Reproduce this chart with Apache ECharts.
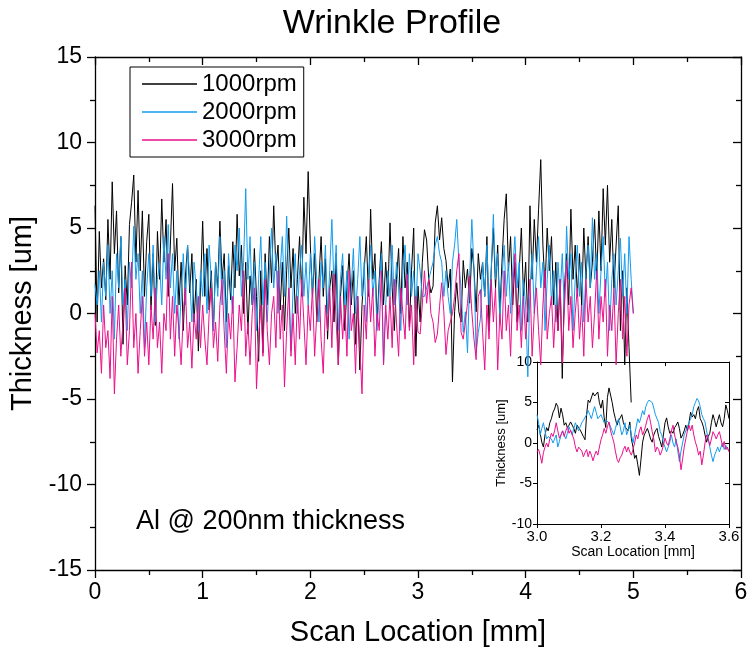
<!DOCTYPE html>
<html>
<head>
<meta charset="utf-8">
<script src="https://cdn.jsdelivr.net/npm/echarts@6/dist/echarts.min.js"></script>
<style>html,body{margin:0;padding:0;background:#fff}#c{width:751px;height:655px}</style>
</head>
<body>
<div id="c"></div>
<script>
// ---- data ----
const seriesNames = ['1000rpm', '2000rpm', '3000rpm'];
const mainStart = 0, mainStep = 0.02;      // scan location sampling of main traces [mm]
const insetStart = 3.0, insetStep = 0.005; // scan location sampling of inset traces [mm]

const main1000 = [
 6.3,-0.5,4.8,1.5,3.2,0.8,5.5,2.0,7.7,3.5,6.0,1.2,4.5,-1.8,2.8,0.5,5.2,6.5,8.1,3.0,7.2,2.5,6.0,1.0,4.2,
 5.8,0.2,3.5,-0.7,4.8,2.0,6.7,3.0,5.5,1.0,4.0,7.6,2.5,4.4,0.5,3.0,-1.0,2.2,4.0,1.2,3.5,-0.5,2.0,-2.2,1.5,
 5.4,1.0,3.8,0.2,2.5,-1.0,3.0,1.5,5.4,2.0,3.5,-0.5,2.8,0.8,4.2,1.5,5.8,2.2,4.0,0.0,3.0,-1.2,2.2,0.5,3.8,
 1.0,-2.8,2.5,-2.3,3.5,0.5,4.5,1.8,6.3,2.5,4.0,0.2,3.0,-1.0,2.5,5.0,1.5,3.8,0.0,2.0,4.5,1.0,6.8,3.5,8.3,
 4.0,1.0,3.5,-0.5,2.0,4.5,1.0,3.2,-1.5,1.5,2.5,-0.5,3.5,-3.0,1.0,2.8,-1.0,1.5,3.5,0.5,2.5,-1.8,1.0,-3.3,0.5,
 2.5,4.5,1.0,6.1,2.0,3.5,-0.5,2.0,4.2,0.5,3.0,1.0,5.3,1.5,-1.0,2.0,3.8,0.0,4.5,1.5,3.0,-0.8,2.5,5.0,-2.5,
 1.6,-0.5,3.0,4.9,4.3,2.0,1.2,1.6,5.3,6.3,4.3,5.6,3.8,3.1,1.5,2.6,-4.0,0.1,1.8,0.1,-0.5,3.1,1.5,2.6,0.6,
 3.8,2.6,0.1,3.5,2.0,3.0,1.0,4.5,-1.0,2.5,5.0,1.5,4.0,0.0,3.0,5.5,7.0,2.5,4.5,0.5,3.0,-0.5,2.5,5.0,1.0,
 3.0,-0.5,6.3,2.0,5.5,3.0,6.1,9.0,4.0,1.5,5.0,2.5,4.5,0.5,3.0,-1.0,2.0,-3.8,1.5,3.5,0.5,6.1,2.0,4.0,1.0,
 3.5,0.5,5.0,2.0,4.5,1.5,3.0,5.5,2.0,6.0,2.5,7.3,4.0,7.5,3.0,5.5,1.5,4.0,6.3,-1.0,2.5,-3.0,1.5,-2.0,-5.2
];
const main2000 = [
 1.7,0.5,2.5,-0.5,3.0,1.0,4.0,0.0,2.5,-1.5,3.5,1.5,4.5,0.5,2.0,-1.0,3.0,1.5,5.1,2.0,3.5,0.0,2.5,-2.0,1.5,
 3.5,1.0,4.0,-0.5,2.0,3.0,0.5,4.5,2.0,5.2,1.5,3.5,0.0,2.5,-1.5,1.0,3.5,0.5,4.0,2.0,-0.5,3.0,1.5,-1.0,2.5,
 1.0,3.5,0.0,4.0,2.0,-1.0,3.0,1.0,4.5,0.5,2.5,-2.0,3.5,1.5,0.0,4.0,2.5,5.0,1.0,3.0,7.3,2.0,4.5,0.5,3.0,
 -1.0,2.0,4.5,0.5,3.0,-0.5,2.5,5.0,1.5,3.5,0.0,2.5,4.5,1.0,5.7,2.0,-2.2,1.5,3.5,0.0,2.5,4.0,1.0,3.0,0.5,
 3.5,1.0,4.5,2.0,-0.5,3.0,1.5,4.0,0.0,2.5,5.5,1.5,4.0,-1.0,2.0,3.5,0.5,2.5,-1.5,1.5,3.8,0.0,2.0,4.5,1.0,
 3.0,-0.5,2.0,4.0,1.0,2.5,-1.0,1.5,3.5,-3.0,0.5,2.5,1.0,4.0,0.5,3.0,1.5,-1.0,2.5,4.0,0.5,3.5,1.0,2.5,0.0,
 3.5,2.5,1.0,1.0,1.5,2.0,2.5,3.0,4.0,4.5,3.5,3.0,1.0,2.5,1.0,0.0,3.0,4.0,5.5,3.0,1.4,-1.1,0.1,-2.3,2.2,
 5.5,2.6,-2.3,-1.1,-0.3,3.0,1.0,4.0,0.5,2.5,5.8,2.0,3.5,-0.5,2.0,4.0,1.0,3.0,0.0,2.5,4.5,1.5,3.0,-1.0,2.0,
 0.5,-3.7,1.5,3.5,0.0,2.5,4.5,1.5,3.0,-1.0,2.0,4.0,0.5,2.5,-0.5,3.0,1.0,3.5,0.0,5.1,2.0,3.5,-1.0,2.0,4.0,
 1.0,3.0,-0.5,2.5,4.0,1.5,5.6,2.0,3.5,0.0,2.5,4.5,1.0,3.0,-1.0,2.0,3.5,0.5,2.5,4.4,1.0,3.5,0.0,4.5,2.0,0.0
];
const main3000 = [
 0.0,-2.3,-1.0,-3.5,0.5,-2.0,-1.0,-3.8,1.0,-4.7,-1.5,0.5,-2.5,-0.5,1.5,-3.0,-1.0,3.0,-2.0,0.0,-3.5,-1.0,1.0,-2.5,-0.5,
 -3.0,0.5,-1.5,1.5,-2.0,-0.5,-3.5,0.0,-1.0,3.5,-1.5,1.0,-2.5,0.5,-1.0,-3.0,0.0,1.5,-2.0,-0.5,-3.2,0.0,-1.5,1.0,-2.0,
 0.5,-1.5,-3.0,0.0,1.5,-2.0,-0.5,-2.8,0.5,2.0,-1.0,-3.5,0.0,-1.5,1.0,-4.0,-2.0,0.5,-1.0,2.5,-2.5,-0.5,-3.0,0.0,1.5,
 -4.4,-1.5,0.5,-2.5,2.0,-1.0,-3.0,0.0,1.0,-2.0,2.5,-1.5,0.5,-4.3,-1.0,1.5,-2.5,0.0,-3.0,1.0,-1.5,2.0,-0.5,-3.0,0.5,
 -1.0,1.5,-2.5,0.0,2.0,-1.5,-3.5,0.5,-1.0,1.5,-2.0,2.3,-0.5,-3.0,1.0,-1.5,0.5,-2.5,2.5,-1.0,0.0,-3.5,1.0,-2.0,-4.7,
 0.5,-1.5,2.0,-0.5,1.5,-2.5,0.0,-1.0,2.5,-3.0,0.5,-1.5,1.0,-2.0,2.0,-0.5,-2.5,1.5,0.0,-1.5,2.3,-1.0,0.5,-3.0,1.0,
 -1.1,-1.2,0.5,2.5,0.6,2.0,0.0,-0.5,-1.7,-1.2,0.4,1.8,0.1,-2.4,-1.0,-0.5,0.0,1.0,2.5,3.5,-1.1,-1.5,-0.5,0.6,2.2,
 0.1,-1.5,-2.7,1.0,1.4,-1.1,-3.3,0.5,-1.5,2.0,-0.5,1.5,-3.3,0.0,-1.5,2.5,-1.0,0.5,-2.5,1.5,3.5,-1.0,0.5,-2.0,1.0,
 -1.5,0.5,2.0,-2.5,0.0,1.5,-1.0,-3.0,0.5,2.5,-1.5,0.0,1.0,-2.0,0.5,-1.0,2.0,-2.9,0.5,3.1,-1.0,1.0,-2.0,0.0,1.5,
 -1.5,0.5,-2.5,2.0,-0.5,1.0,-2.0,0.0,2.5,-1.5,1.0,-0.5,2.0,-2.5,0.5,-1.0,1.5,-3.0,0.0,2.0,-1.5,1.0,-2.5,0.5,1.5,0.0
];

const inset1000 = [
 1.6,2.2,1.2,0.1,-0.5,1.0,1.9,1.5,2.5,3.0,3.8,4.2,4.9,4.5,3.1,4.3,3.5,2.2,2.5,1.9,
 2.2,2.6,2.6,1.8,1.2,2.2,1.9,1.6,1.6,0.8,0.4,3.5,5.3,5.0,5.1,6.2,5.8,5.6,6.3,5.0,
 4.3,5.3,3.1,1.9,5.6,6.8,6.6,5.0,3.8,3.0,2.2,2.8,3.1,3.5,2.5,2.0,2.0,1.5,2.6,0.5,
 -0.5,-1.9,-1.5,-2.7,-4.0,-2.0,0.1,1.0,0.8,1.8,1.2,0.5,0.1,1.0,1.5,1.8,0.8,0.2,-0.5,1.0,
 2.5,3.1,2.0,1.2,1.5,1.2,1.9,2.2,2.6,1.8,0.6,1.0,1.5,2.2,1.5,2.5,3.8,3.2,3.5,3.0,
 4.0,4.5,3.0,2.6,2.0,1.0,0.1,0.8,1.2,2.5,3.5,2.8,2.0,2.8,3.5,2.5,2.0,3.0,4.7,4.0,
 3.0
];
const inset2000 = [
 3.5,2.5,1.0,1.8,2.5,1.5,0.5,0.8,1.0,0.5,0.0,0.5,1.0,-0.5,0.2,1.0,1.5,1.0,0.5,1.2,
 2.0,1.5,1.0,1.8,2.5,2.0,1.5,2.0,2.5,2.8,3.0,3.5,4.0,3.5,3.0,3.8,4.5,3.8,3.0,3.2,
 3.5,3.0,2.5,2.8,3.0,2.5,2.0,1.5,1.0,1.8,2.5,3.0,2.0,1.0,1.5,2.5,1.0,1.5,2.2,1.0,
 0.0,1.0,2.0,3.0,2.5,3.2,4.0,3.5,4.5,5.0,5.3,5.5,5.0,4.3,3.5,3.0,2.5,1.4,1.0,0.0,
 -0.5,-1.1,-0.5,0.1,1.0,0.0,-0.5,0.5,-1.0,-2.3,-1.0,0.0,1.0,1.5,2.0,2.2,3.0,3.5,4.5,5.0,
 5.5,5.2,4.5,3.5,3.0,2.6,1.5,0.5,-0.5,-1.5,-2.3,-1.5,-1.0,-0.5,-1.1,-0.5,0.0,-0.8,-0.3,-0.8,
 -1.0
];
const inset3000 = [
 -1.1,-0.8,-1.5,-2.5,-1.2,-0.5,0.0,-0.5,0.5,1.2,0.8,1.5,2.5,1.5,0.6,1.0,1.5,0.8,1.5,2.0,
 1.2,1.6,1.6,0.5,-0.5,-1.1,-0.5,-0.3,-1.0,-1.7,-1.2,-0.8,-1.7,-1.0,-1.5,-2.2,-1.5,-1.0,-1.5,-0.5,
 0.4,1.0,1.8,1.2,2.0,2.6,1.5,0.8,0.1,-1.0,-2.0,-2.4,-1.8,-1.5,-0.8,-0.4,-1.1,-0.5,-1.1,-1.5,
 -0.8,0.0,1.0,0.5,1.5,2.0,1.0,1.5,2.2,3.0,3.5,2.5,1.4,0.5,-1.1,-0.5,-0.8,-1.5,-1.0,-0.3,
 0.6,0.0,-0.3,0.5,1.5,2.2,1.0,0.1,-0.5,-1.5,-3.3,-2.0,-0.5,0.5,1.5,2.2,1.5,2.2,1.0,0.1,
 -0.5,-1.5,-1.0,-2.7,-1.5,0.0,1.0,0.5,-0.3,0.5,1.4,1.0,0.5,1.0,1.4,0.5,-0.5,0.2,-0.8,-0.5,
 -1.1
];

const mainXTicks = [0, 1, 2, 3, 4, 5, 6];
const mainYTicks = [-15, -10, -5, 0, 5, 10, 15];
const insetXTicks = ['3.0', '3.2', '3.4', '3.6'];
const insetYTicks = [-10, -5, 0, 5, 10];

// ---- build ----
function pairs(arr, start, step) {
  return arr.map((v, i) => [+(start + i * step).toFixed(4), v]);
}
const colors = ['#000000', '#129CEE', '#EC0F8B'];
const FONT = 'Liberation Sans, Arial, Helvetica, sans-serif';
const chart = echarts.init(document.getElementById('c'), null, { renderer: 'canvas' });

const axisLine = { show: true, onZero: false, lineStyle: { color: '#000', width: 1.3 } };

const option = {
  animation: false,
  backgroundColor: '#fff',
  textStyle: { fontFamily: FONT },
  grid: [
    { left: 95, right: 10, top: 57, bottom: 85 },
    { left: 537, right: 22, top: 362, bottom: 131 }
  ],
  xAxis: [
    { gridIndex: 0, type: 'value', position: 'bottom', min: mainXTicks[0], max: mainXTicks[mainXTicks.length - 1], interval: 1,
      axisLine, axisTick: { show: true, inside: false, length: 8, lineStyle: { color: '#000', width: 1.3 } },
      minorTick: { show: true, splitNumber: 2, length: 5, lineStyle: { color: '#000', width: 1.3 } },
      splitLine: { show: false },
      axisLabel: { color: '#000', fontSize: 23, fontFamily: FONT, margin: 11 },
      name: 'Scan Location [mm]', nameLocation: 'middle', nameGap: 48,
      nameTextStyle: { color: '#000', fontSize: 29, fontFamily: FONT } },
    { gridIndex: 0, type: 'value', position: 'top', min: 0, max: 6, interval: 1,
      axisLine, axisTick: { show: true, inside: true, length: 8, lineStyle: { color: '#000', width: 1.3 } },
      minorTick: { show: true, splitNumber: 2, length: 5, lineStyle: { color: '#000', width: 1.3 } },
      splitLine: { show: false }, axisLabel: { show: false } },
    { gridIndex: 1, type: 'value', position: 'bottom', min: 3.0, max: 3.6, interval: 0.2,
      axisLine: { show: true, onZero: false, lineStyle: { color: '#000', width: 1 } },
      axisTick: { show: true, inside: false, length: 4, lineStyle: { color: '#000' } },
      splitLine: { show: false },
      axisLabel: { color: '#000', fontSize: 15, fontFamily: FONT, margin: 5,
        formatter: v => insetXTicks.find(t => Math.abs(parseFloat(t) - v) < 1e-6) || '' },
      name: 'Scan Location [mm]', nameLocation: 'middle', nameGap: 21,
      nameTextStyle: { color: '#000', fontSize: 14, fontFamily: FONT } },
    { gridIndex: 1, type: 'value', position: 'top', min: 3.0, max: 3.6, interval: 0.2,
      axisLine: { show: true, onZero: false, lineStyle: { color: '#000', width: 1 } },
      axisTick: { show: true, inside: true, length: 4, lineStyle: { color: '#000' } },
      splitLine: { show: false }, axisLabel: { show: false } }
  ],
  yAxis: [
    { gridIndex: 0, type: 'value', position: 'left', min: mainYTicks[0], max: mainYTicks[mainYTicks.length - 1], interval: 5,
      axisLine, axisTick: { show: true, inside: false, length: 8, lineStyle: { color: '#000', width: 1.3 } },
      minorTick: { show: true, splitNumber: 2, length: 5, lineStyle: { color: '#000', width: 1.3 } },
      splitLine: { show: false },
      axisLabel: { color: '#000', fontSize: 23, fontFamily: FONT, margin: 13 },
      name: 'Thickness [um]', nameLocation: 'middle', nameGap: 50,
      nameTextStyle: { color: '#000', fontSize: 29, fontFamily: FONT } },
    { gridIndex: 0, type: 'value', position: 'right', min: -15, max: 15, interval: 5,
      axisLine, axisTick: { show: true, inside: true, length: 8, lineStyle: { color: '#000', width: 1.3 } },
      minorTick: { show: true, splitNumber: 2, length: 5, lineStyle: { color: '#000', width: 1.3 } },
      splitLine: { show: false }, axisLabel: { show: false } },
    { gridIndex: 1, type: 'value', position: 'left', min: insetYTicks[0], max: insetYTicks[insetYTicks.length - 1], interval: 5,
      axisLine: { show: true, onZero: false, lineStyle: { color: '#000', width: 1 } },
      axisTick: { show: true, inside: false, length: 4, lineStyle: { color: '#000' } },
      splitLine: { show: false },
      axisLabel: { color: '#000', fontSize: 14, fontFamily: FONT, margin: 5 },
      name: 'Thickness [um]', nameLocation: 'middle', nameGap: 25,
      nameTextStyle: { color: '#000', fontSize: 13, fontFamily: FONT } },
    { gridIndex: 1, type: 'value', position: 'right', min: -10, max: 10, interval: 5,
      axisLine: { show: true, onZero: false, lineStyle: { color: '#000', width: 1 } },
      axisTick: { show: true, inside: true, length: 4, lineStyle: { color: '#000' } },
      splitLine: { show: false }, axisLabel: { show: false } }
  ],
  legend: {
    data: seriesNames.map(n => ({ name: n, icon: 'rect' })),
    orient: 'vertical', left: 130, top: 67,
    borderColor: '#000', borderWidth: 1, borderRadius: 0,
    padding: [5, 7, 5, 12],
    itemWidth: 55, itemHeight: 1.5, itemGap: 4,
    textStyle: { color: '#000', fontSize: 24, fontFamily: FONT, lineHeight: 24 }
  },
  graphic: [
    { type: 'text', x: 392, y: 7, style: { text: 'Wrinkle Profile', font: '34px ' + FONT, fill: '#000', align: 'center', verticalAlign: 'top' }, z: 100 },
    { type: 'text', left: 136, top: 508, style: { text: 'Al @ 200nm thickness', font: '27px ' + FONT, fill: '#000' }, z: 100 }
  ],
  series: []
};

const mains = [main1000, main2000, main3000];
const insets = [inset1000, inset2000, inset3000];
seriesNames.forEach((n, k) => {
  option.series.push({
    name: n, type: 'line', xAxisIndex: 0, yAxisIndex: 0,
    data: pairs(mains[k], mainStart, mainStep),
    showSymbol: false, symbol: 'none', color: colors[k],
    lineStyle: { width: 1, color: colors[k] }, z: 2 + k
  });
});
seriesNames.forEach((n, k) => {
  option.series.push({
    name: n, type: 'line', xAxisIndex: 2, yAxisIndex: 2,
    data: pairs(insets[k], insetStart, insetStep),
    showSymbol: false, symbol: 'none', color: colors[k],
    lineStyle: { width: 1, color: colors[k] }, z: 2 + k
  });
});

chart.setOption(option);
</script>
</body>
</html>
